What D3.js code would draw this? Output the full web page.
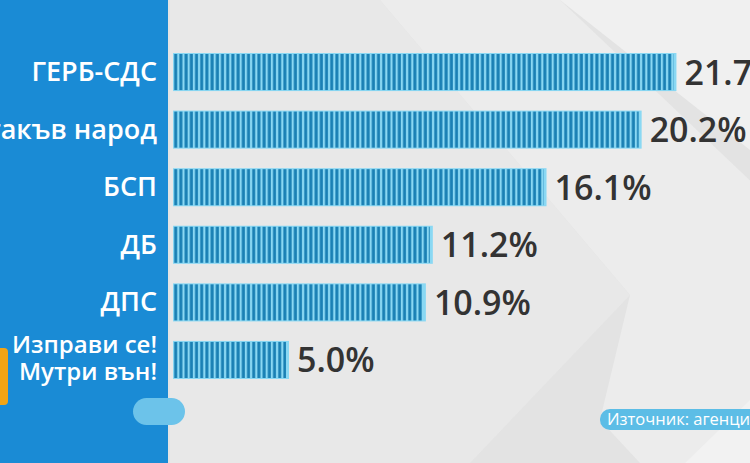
<!DOCTYPE html>
<html lang="bg">
<head>
<meta charset="utf-8">
<script src="https://cdn.jsdelivr.net/npm/d3@7"></script>
<style>
  html, body { margin: 0; padding: 0; overflow: hidden; background: #e4e4e4; }
  svg { display: block; font-family: "Open Sans", "Noto Sans", sans-serif; }
</style>
</head>
<body>
<div id="chart"></div>
<script>
var width = 750;
var height = 463;

// poll results, percent
var parties = ["ГЕРБ-СДС", "Има такъв народ", "БСП", "ДБ", "ДПС", "Изправи се! Мутри вън!"];
var partyLines = [["ГЕРБ-СДС"], ["Има такъв народ"], ["БСП"], ["ДБ"], ["ДПС"], ["Изправи се!", "Мутри вън!"]];
var values = [21.7, 20.2, 16.1, 11.2, 10.9, 5.0];
var valueLabels = ["21.7%", "20.2%", "16.1%", "11.2%", "10.9%", "5.0%"];
var sourceText = "Източник: агенция";

var x = d3.scaleLinear()
  .domain([0, 25])
  .range([173, 173 + 25 * 23.2]);

var y = d3.scaleBand()
  .domain(parties)
  .range([53, 379])
  .paddingInner(0.339)
  .paddingOuter(0);

var svg = d3.select("#chart")
  .append("svg")
  .attr("width", width)
  .attr("height", height);

// stripes for the bars
var defs = svg.append("defs");
var pat = defs.append("pattern")
  .attr("id", "stripes")
  .attr("patternUnits", "userSpaceOnUse")
  .attr("x", 173)
  .attr("width", 5.2)
  .attr("height", 10);
pat.append("rect").attr("width", 5.2).attr("height", 10).attr("fill", "#8ad8f3");
pat.append("rect").attr("x", 1.2).attr("width", 3).attr("height", 10).attr("fill", "#1a80b4");

// grey backdrop with faint chevrons
svg.append("rect")
  .attr("width", width)
  .attr("height", height)
  .attr("fill", "#e3e3e3");

svg.append("path")
  .attr("d", "M380,0 L560,0 L760,190 L760,463 L640,463 L600,420 L630,295 Z")
  .attr("fill", "#ececec");
svg.append("path")
  .attr("d", "M170,0 L380,0 L630,295 L470,463 L170,463 Z")
  .attr("fill", "#e8e8e8");
svg.append("path")
  .attr("d", "M560,0 L750,0 L750,150 Z")
  .attr("fill", "#f0f0f0");
svg.append("path")
  .attr("d", "M685,463 L750,400 L750,463 Z")
  .attr("fill", "#f2f2f2");

// blue panel on the left
svg.append("rect")
  .attr("width", 168)
  .attr("height", height)
  .attr("fill", "#1a8bd5");

// orange tab and pill
svg.append("path")
  .attr("d", "M-5,348 H4 a4,4 0 0 1 4,4 V401 a4,4 0 0 1 -4,4 H-5 Z")
  .attr("fill", "#f2a414");
svg.append("rect")
  .attr("x", 133)
  .attr("y", 398)
  .attr("width", 52)
  .attr("height", 27)
  .attr("rx", 13.5)
  .attr("fill", "#6cc3ea");

// bars
var bars = svg.append("g").attr("class", "bars");

bars.selectAll("rect.base")
  .data(values)
  .enter()
  .append("rect")
  .attr("class", "base")
  .attr("x", x(0))
  .attr("y", (d, i) => y(parties[i]))
  .attr("width", d => x(d) - x(0))
  .attr("height", y.bandwidth())
  .attr("fill", "#8ad8f3");

bars.selectAll("rect.stripe")
  .data(values)
  .enter()
  .append("rect")
  .attr("class", "stripe")
  .attr("x", x(0))
  .attr("y", (d, i) => y(parties[i]) + 1)
  .attr("width", d => x(d) - x(0) - 3)
  .attr("height", y.bandwidth() - 2)
  .attr("fill", "url(#stripes)");

// value labels
svg.selectAll("text.value")
  .data(values)
  .enter()
  .append("text")
  .attr("class", "value")
  .attr("x", d => x(d) + 8)
  .attr("y", (d, i) => y(parties[i]) + y.bandwidth() / 2 + 12.5)
  .attr("font-size", "34px")
  .attr("font-weight", 600)
  .attr("fill", "#333333")
  .text((d, i) => valueLabels[i]);

// party labels
var labels = svg.selectAll("text.party")
  .data(partyLines)
  .enter()
  .append("text")
  .attr("class", "party")
  .attr("text-anchor", "end")
  .attr("fill", "#ffffff")
  .attr("font-weight", 600)
  .attr("font-size", d => d.length > 1 ? "24px" : "27px")
  .attr("y", (d, i) => y(parties[i]) + y.bandwidth() / 2);

labels.each(function (d) {
  var t = d3.select(this);
  if (d.length === 1) {
    t.append("tspan").attr("x", 157).attr("dy", 9).text(d[0]);
  } else {
    t.append("tspan").attr("x", 157).attr("dy", -7).text(d[0]);
    t.append("tspan").attr("x", 157).attr("dy", 27).text(d[1]);
  }
});

// source tag
svg.append("rect")
  .attr("x", 600)
  .attr("y", 409)
  .attr("width", 170)
  .attr("height", 21)
  .attr("rx", 10)
  .attr("fill", "#5cbde6");
svg.append("text")
  .attr("x", 607)
  .attr("y", 424.5)
  .attr("font-size", "16.5px")
  .attr("fill", "#ffffff")
  .text(sourceText);
</script>
</body>
</html>
